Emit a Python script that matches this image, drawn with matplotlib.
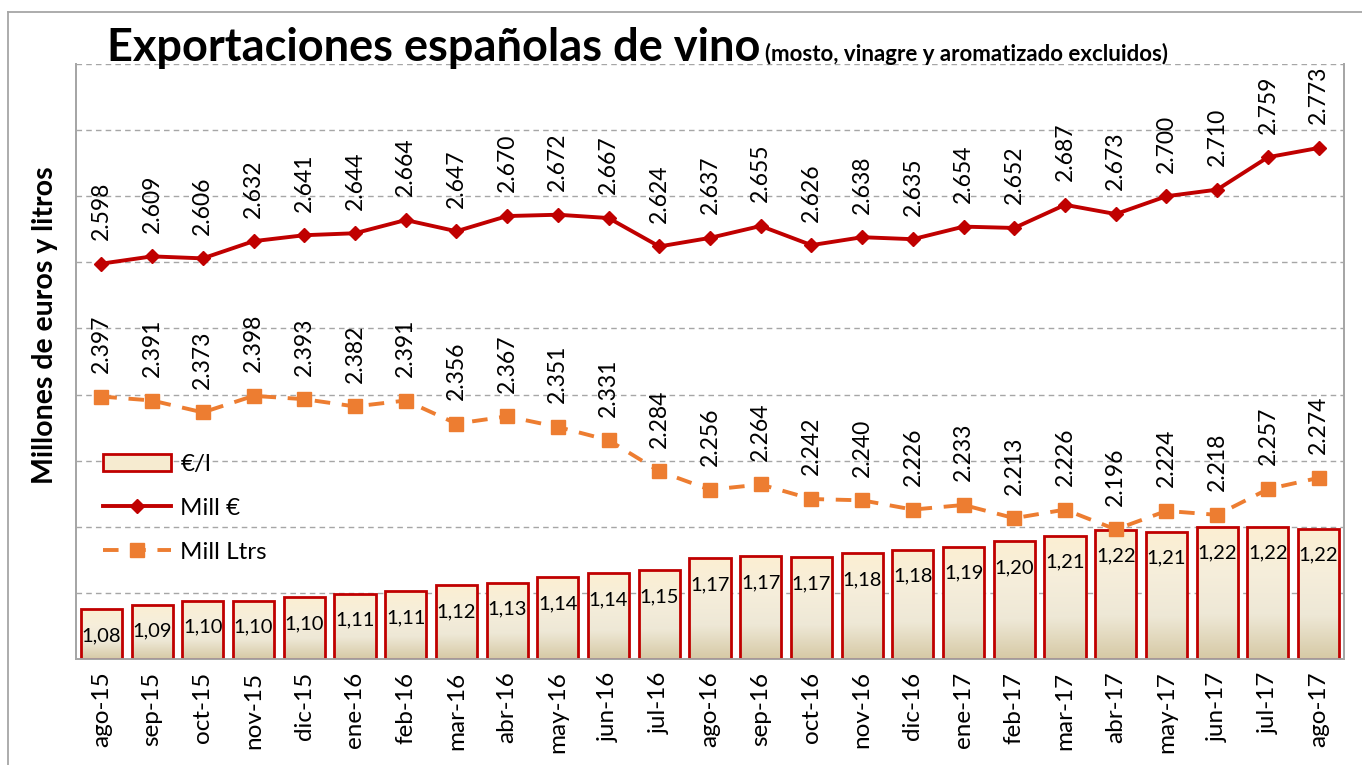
import numpy as np
import matplotlib
matplotlib.use("Agg")
import matplotlib.pyplot as plt
import matplotlib.patches as mpatches
from matplotlib.lines import Line2D
from matplotlib.colors import LinearSegmentedColormap

plt.rcParams['font.family'] = ['Lato', 'DejaVu Sans']

# ---- data ---------------------------------------------------------------
months = ['ago-15', 'sep-15', 'oct-15', 'nov-15', 'dic-15', 'ene-16', 'feb-16',
          'mar-16', 'abr-16', 'may-16', 'jun-16', 'jul-16', 'ago-16', 'sep-16',
          'oct-16', 'nov-16', 'dic-16', 'ene-17', 'feb-17', 'mar-17', 'abr-17',
          'may-17', 'jun-17', 'jul-17', 'ago-17']
mill_eur = [2598, 2609, 2606, 2632, 2641, 2644, 2664, 2647, 2670, 2672, 2667,
            2624, 2637, 2655, 2626, 2638, 2635, 2654, 2652, 2687, 2673, 2700,
            2710, 2759, 2773]
mill_ltrs = [2397, 2391, 2373, 2398, 2393, 2382, 2391, 2356, 2367, 2351, 2331,
             2284, 2256, 2264, 2242, 2240, 2226, 2233, 2213, 2226, 2196, 2224,
             2218, 2257, 2274]
eur_l = [1.084, 1.091, 1.098, 1.098, 1.104, 1.110, 1.114, 1.124, 1.128, 1.137,
         1.144, 1.149, 1.169, 1.173, 1.171, 1.178, 1.184, 1.189, 1.198, 1.207,
         1.217, 1.214, 1.222, 1.222, 1.219]

RED = "#C00000"
ORANGE = "#ED7D31"
GRID = "#A6A6A6"

W, H = 1362, 765
fig = plt.figure(figsize=(W/100, H/100), dpi=100)
ax = fig.add_axes([76/W, 1-659/H, (1344-76)/W, (659-64)/H])
ax2 = ax.twinx()

x = np.arange(len(months))

# ---- bars (€/l) with vertical gradient ----------------------------------
grad = LinearSegmentedColormap.from_list(
    "wine", ["#D6C9A5", "#EEE8D6", "#F6EEDB", "#FCEFD2"])
bars = ax.bar(x, np.array(eur_l) - 1.0, bottom=1.0, width=0.81,
              facecolor="none", edgecolor=RED, linewidth=2.0, zorder=3)
g = np.linspace(0, 1, 256).reshape(-1, 1)
for b in bars:
    x0, y0 = b.get_x(), b.get_y()
    im = ax.imshow(g, cmap=grad, origin="lower", aspect="auto",
                   extent=(x0, x0 + b.get_width(), y0, y0 + b.get_height()),
                   zorder=2)
    im.set_clip_path(b)
for xi, v in zip(x, eur_l):
    ax.annotate(f"{v:.2f}".replace(".", ","), (xi, v), xytext=(0, -19),
                textcoords="offset points", ha="center", va="center",
                fontsize=14.5, zorder=4)

ax.set_xlim(-0.5, len(months) - 0.5)
ax.set_ylim(1.0, 2.0)
ax.set_yticks(np.linspace(1.0, 2.0, 10))
ax.yaxis.grid(True, color=GRID, linestyle=(0, (4, 3)), linewidth=1.0)
ax.set_axisbelow(True)
ax.tick_params(axis="y", left=False, labelleft=False)
ax.set_xticks(x)
ax.set_xticklabels(months, rotation=90, fontsize=17.5)
ax.tick_params(axis="x", length=0, pad=9)

# ---- lines (Mill €, Mill Ltrs) -------------------------------------------
ax2.plot(x, mill_eur, color=RED, lw=2.8, marker="D", ms=7, zorder=5)
ax2.plot(x, mill_ltrs, color=ORANGE, lw=2.8, ls=(0, (4, 3)), marker="s",
         ms=10.5, zorder=5)
for xi, v in zip(x, mill_eur):
    ax2.annotate(f"{v/1000:.3f}", (xi, v), xytext=(0, 17),
                 textcoords="offset points", ha="center", va="bottom",
                 rotation=90, fontsize=16.5)
for xi, v in zip(x, mill_ltrs):
    ax2.annotate(f"{v/1000:.3f}", (xi, v), xytext=(0, 17),
                 textcoords="offset points", ha="center", va="bottom",
                 rotation=90, fontsize=16.5)
ax2.set_ylim(2000, 2900)
ax2.tick_params(axis="y", right=False, labelright=False)

for a in (ax, ax2):
    a.spines["top"].set_visible(False)
    for s in ("left", "right", "bottom"):
        a.spines[s].set_color(GRID)
        a.spines[s].set_linewidth(1.3)

# ---- legend ---------------------------------------------------------------
hand = [mpatches.Patch(facecolor="#F6EBD0", edgecolor=RED, lw=2.0, label="€/l"),
        Line2D([0], [0], color=RED, lw=2.8, marker="D", ms=7, label="Mill €"),
        Line2D([0], [0], color=ORANGE, lw=2.8, ls=(0, (4, 3)), marker="s",
               ms=10.5, label="Mill Ltrs")]
ax2.legend(handles=hand, loc="upper left", bbox_to_anchor=(0.021, 0.345),
           frameon=False, fontsize=17.5, handlelength=2.8, handletextpad=0.4,
           labelspacing=0.95, borderpad=0, borderaxespad=0)

# ---- titles -------------------------------------------------------------
fig.text(107/W, 1-61/H, "Exportaciones españolas de vino", fontsize=32.5,
         fontweight="bold", va="baseline", ha="left")
fig.text(765/W, 1-61/H, "(mosto, vinagre y aromatizado excluidos)",
         fontsize=16, fontweight="bold", va="baseline", ha="left")
fig.text(45/W, 1-325/H, "Millones de euros y litros", fontsize=20.5,
         fontweight="bold", rotation=90, ha="center", va="center")

# outer chart frame
fig.add_artist(Line2D([8/W, 8/W], [0, 1-12/H], color=GRID, lw=1.3))
fig.add_artist(Line2D([8/W, 1], [1-12/H, 1-12/H], color=GRID, lw=1.3))

fig.savefig("out.png", dpi=100)
